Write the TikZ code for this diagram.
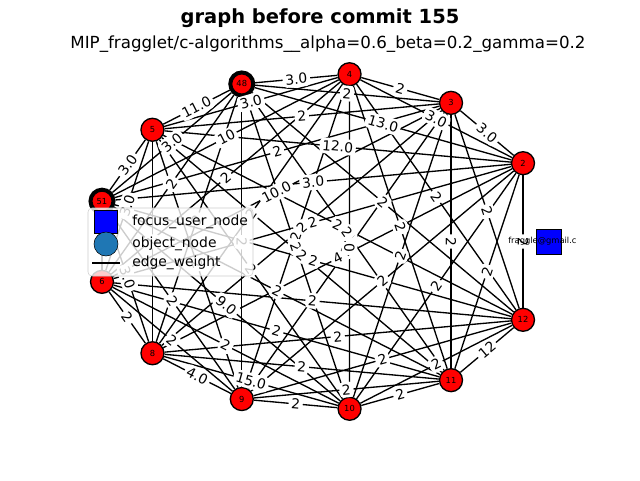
\documentclass[tikz,border=0pt]{standalone}
\usepackage{fontspec}
\setmainfont{DejaVu Sans}
\usetikzlibrary{backgrounds,positioning}
\definecolor{mplblue}{HTML}{1F77B4}
\pgfdeclarelayer{edgelayer}
\pgfdeclarelayer{toplayer}
\pgfsetlayers{edgelayer,main,toplayer}
\tikzset{objnode/.style={circle,draw=black,fill=red,minimum size=17.25pt,inner sep=0pt,
   font=\fontsize{6.25}{7}\selectfont},
 usernode/.style={rectangle,draw=black,fill=blue,minimum size=18.75pt,inner sep=0pt},
 edgeline/.style={line width=1pt},
 wlabel/.style={fill=white,rounded corners=3pt,inner sep=2pt,sloped,
   font=\fontsize{10.4}{12}\selectfont},
 legendtext/.style={anchor=west,inner sep=0pt,font=\fontsize{10.4}{12}\selectfont},
 }
\def\edgelist{2/3/3.0, 2/4/3.0, 2/48/13.0, 2/5/12.0, 2/51/3.0, 2/6/2, 2/8/4, 2/9/2, 2/10/2, 2/11/2, 2/12/2,
 3/4/2, 3/48/2, 3/5/2, 3/51/2, 3/6/10.0, 3/8/2, 3/9/2, 3/10/2, 3/11/2, 3/12/2,
 4/48/3.0, 4/5/3.0, 4/51/10, 4/6/2, 4/8/2, 4/9/2, 4/10/2.0, 4/11/2, 4/12/2,
 48/5/11.0, 48/51/3.0, 48/6/2, 48/8/2, 48/9/2, 48/10/2, 48/11/2, 48/12/2,
 5/51/3.0, 5/6/3.0, 5/8/2, 5/9/2, 5/10/2, 5/11/2, 5/12/2,
 51/6/2, 51/8/3.0, 51/9/2, 51/10/9.0, 51/11/2, 51/12/2,
 6/8/2, 6/9/2, 6/10/2, 6/11/2, 6/12/2,
 8/9/4.0, 8/10/15.0, 8/11/2, 8/12/2,
 9/10/2, 9/11/2, 9/12/2,
 10/11/2, 10/12/2,
 11/12/12}

\begin{document}
\begin{tikzpicture}[x=0.75pt,y=-0.75pt]
\useasboundingbox (0,0) rectangle (640,480);
\node[font=\bfseries\fontsize{14.6}{17}\selectfont] (title) at (320,18) {graph before commit 155};
\node[font=\fontsize{12.5}{15}\selectfont] (subtitle) at (328,44)
 {MIP\_fragglet/c-algorithms\_\_alpha=0.6\_beta=0.2\_gamma=0.2};

% circular layout
\foreach \k/\name/\bw in {1/2/1pt, 2/3/1pt, 3/4/1pt, 4/48/3pt, 5/5/1pt, 6/51/3pt,
  7/6/1pt, 8/8/1pt, 9/9/1pt, 10/10/1pt, 11/11/1pt, 12/12/1pt}
  \node[objnode,line width=\bw] (n\name) at ({322.2+226.8*cos(\k*360/13)},{241.5-168.5*sin(\k*360/13)}) {\name};
\node[usernode] (ff) at (549,241.5) {};

\begin{pgfonlayer}{edgelayer}
\foreach \a/\b/\w in \edgelist
  \draw[edgeline] (n\a) -- (n\b);
\end{pgfonlayer}

\begin{pgfonlayer}{toplayer}
\foreach \a/\b/\w in \edgelist
  \path (n\a) -- node[wlabel] {\w} (n\b);
\begin{scope}
  \clip (0,0) rectangle (576,480);
  \node[font=\fontsize{6.25}{7}\selectfont,inner sep=0pt] (fflabel) at (ff) {fraggle@gmail.com};
\end{scope}

% legend
\draw[black!20,fill=white,fill opacity=0.8,rounded corners=3pt] (88,208) rectangle (253,276);
\node[usernode,minimum size=17pt] (lgsq) at (106,222) {};
\node[circle,draw=black,fill=mplblue,minimum size=18pt,inner sep=0pt] (lgcirc) at (106,244) {};
\coordinate (lgl) at (92,263);
\coordinate (lgr) at (120,263);
\draw[edgeline] (lgl) -- (lgr);
\node[legendtext] (lgt1) at (132,222) {focus\_user\_node};
\node[legendtext] (lgt2) at (132,244) {object\_node};
\node[legendtext] (lgt3) at (132,263) {edge\_weight};
\end{pgfonlayer}
\end{tikzpicture}
\end{document}
